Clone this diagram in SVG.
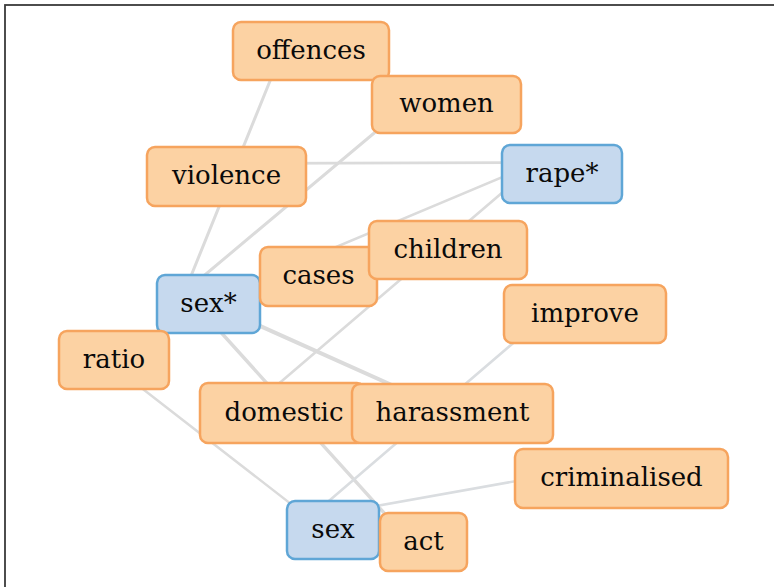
<svg xmlns="http://www.w3.org/2000/svg" width="774" height="587" viewBox="0 0 774 587">
<style>
.o rect{fill:#FCD2A3;stroke:#F6A45E;stroke-width:2.5}
.b rect{fill:#C6D9EE;stroke:#5FA6D6;stroke-width:2.5}
text{font-family:"DejaVu Serif","Liberation Serif",serif;font-size:26px;fill:#0a0a0a;text-anchor:middle}
.e line{stroke:#DBDBDB;stroke-width:2.6;stroke-linecap:round}
</style>
<rect x="0" y="0" width="774" height="587" fill="#ffffff"/>
<rect x="5" y="5" width="800" height="600" fill="none" stroke="#3a3a3a" stroke-width="1.8"/>
<g id="edges" class="e">
<line x1="287" y1="39" x2="184.5" y2="292" style="stroke-width:3"/>
<line x1="422.5" y1="92.5" x2="184.5" y2="292" style="stroke-width:3"/>
<line x1="202.5" y1="163.5" x2="538" y2="162.5"/>
<line x1="538" y1="162" x2="294.5" y2="264.5"/>
<line x1="538" y1="162" x2="258.5" y2="401"/>
<line x1="184.5" y1="292" x2="428.5" y2="401.5" style="stroke-width:4"/>
<line x1="184.5" y1="292" x2="399.5" y2="530" style="stroke-width:3.4"/>
<line x1="561" y1="302" x2="309" y2="518" style="stroke:#DADDE0"/>
<line x1="597.5" y1="466.5" x2="309" y2="518" style="stroke:#DADDE0"/>
<line x1="90" y1="348" x2="309" y2="518" style="stroke-width:2.4"/>
</g>
<g id="n-offences" class="o"><rect x="233" y="22" width="156" height="58" rx="8"/><text x="311" y="58.5">offences</text></g>
<g id="n-women" class="o"><rect x="372" y="76" width="149" height="57" rx="8"/><text x="446.5" y="112">women</text></g>
<g id="n-violence" class="o"><rect x="147" y="147" width="159" height="59" rx="8"/><text x="226.5" y="184">violence</text></g>
<g id="n-rape" class="b"><rect x="502" y="145" width="120" height="58" rx="8"/><text x="562" y="181.5">rape*</text></g>
<g id="n-sexstar" class="b"><rect x="157" y="275" width="103" height="58" rx="8"/><text x="208.5" y="311.5">sex*</text></g>
<g id="n-cases" class="o"><rect x="260" y="247" width="117" height="59" rx="8"/><text x="318.5" y="284">cases</text></g>
<g id="n-children" class="o"><rect x="369" y="221" width="158" height="58" rx="8"/><text x="448" y="257.5">children</text></g>
<g id="n-improve" class="o"><rect x="504" y="285" width="162" height="58" rx="8"/><text x="585" y="321.5">improve</text></g>
<g id="n-ratio" class="o"><rect x="59" y="331" width="110" height="58" rx="8"/><text x="114" y="367.5">ratio</text></g>
<g id="n-domestic" class="o"><rect x="200" y="383" width="165" height="60" rx="8"/><text x="284" y="420.5">domestic</text></g>
<g id="n-harassment" class="o"><rect x="352" y="384" width="201" height="59" rx="8"/><text x="452.5" y="421">harassment</text></g>
<g id="n-criminalised" class="o"><rect x="515" y="449" width="213" height="59" rx="8"/><text x="621.5" y="486">criminalised</text></g>
<g id="n-sex" class="b"><rect x="287" y="501" width="92" height="58" rx="8"/><text x="333" y="537.5">sex</text></g>
<g id="n-act" class="o"><rect x="380" y="513" width="87" height="58" rx="8"/><text x="423.5" y="549.5">act</text></g>
</svg>
